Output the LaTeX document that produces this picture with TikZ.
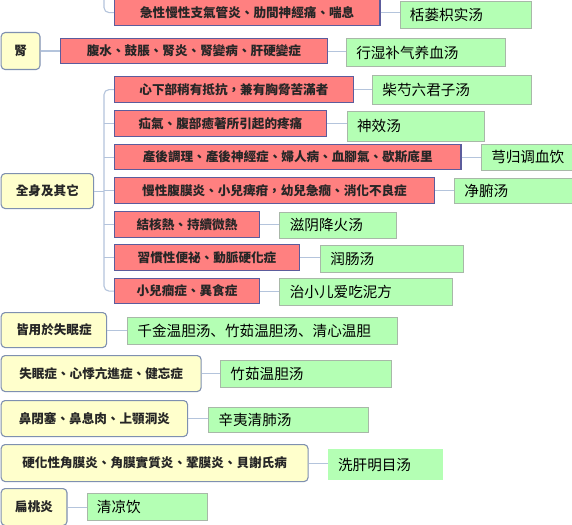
\documentclass[tikz,border=0pt]{standalone}
\usepackage{fontspec}
\newfontfamily\tcfont{Noto Sans CJK TC}
\newfontfamily\scfont{Noto Sans CJK SC}
\definecolor{redfill}{HTML}{FF8080}
\definecolor{redline}{HTML}{5C5C9C}
\definecolor{yelfill}{HTML}{FFFFCC}
\definecolor{yelline}{HTML}{7F90B0}
\definecolor{grnfill}{HTML}{B4FFB4}
\definecolor{grnline}{HTML}{A8B8A8}
\definecolor{conncol}{HTML}{B4C4DC}
\tikzset{
  redbox/.style={draw=redline, fill=redfill, line width=1.2pt, inner sep=0pt, anchor=north west,
    font=\tcfont\bfseries\fontsize{12.6}{14}\selectfont, text=black!85},
  yelbox/.style={draw=yelline, fill=yelfill, line width=1.1pt, rounded corners=4pt, inner sep=0pt, anchor=north west,
    font=\tcfont\bfseries\fontsize{12.6}{14}\selectfont, text=black!85},
  grnbox/.style={draw=grnline, fill=grnfill, line width=0.9pt, inner xsep=10pt, inner ysep=0pt, anchor=north west,
    font=\scfont\fontsize{14.6}{16}\selectfont, text=black},
  conn/.style={draw=conncol, line width=1.1pt},
}
\newcommand\mkred[6]{\node[redbox, minimum width=#4pt, minimum height=#5pt] (#1) at (#2,#3) {#6};}
\newcommand\mkyel[6]{\node[yelbox, minimum width=#4pt, minimum height=#5pt] (#1) at (#2,#3) {#6};}
\newcommand\mkgrn[6]{\node[grnbox, minimum width=#4pt, minimum height=#5pt] (#1) at (#2,#3) {\makebox[\dimexpr #4pt-20pt\relax][l]{#6}};}
\begin{document}
\begin{tikzpicture}[x=1pt,y=-1pt]
\useasboundingbox (0,0) rectangle (572,524);
\fill[white] (0,0) rectangle (572,524);
% top partial group
\mkred{r0}{113.8}{-1}{265.6}{26}{急性慢性支氣管炎、肋間神經痛、喘息}
\mkgrn{g0}{399.5}{1}{131.3}{27}{栝蒌枳实汤}
\coordinate (topb) at (104,0);
\draw[conn, rounded corners=5pt] (topb) -- (r0.west -| topb) -- (r0.west);
\draw[conn] (r0.east) -- (r0.east -| g0.west);
% kidney
\mkyel{y1}{0.6}{32}{38.8}{37}{腎}
\mkred{r1}{60.2}{38}{266.3}{25}{腹水、鼓脹、腎炎、腎變病、肝硬變症}
\mkgrn{g1}{345.8}{38}{158.7}{28}{行湿补气养血汤}
\draw[conn] (y1.east) -- (y1.east -| r1.west);
\draw[conn] (r1.east) -- (r1.east -| g1.west);
% whole body group
\mkyel{y2}{0.6}{173}{92.4}{35}{全身及其它}
\mkred{r2}{113.8}{76}{239}{26}{心下部稍有抵抗，兼有胸脅苦滿者}
\mkgrn{g2}{372}{75}{158.8}{29}{柴芍六君子汤}
\mkred{r3}{113.8}{110}{212}{26}{疝氣、腹部癒著所引起的疼痛}
\mkgrn{g3}{346.6}{111}{137.8}{30}{神效汤}
\mkred{r4}{113.8}{144}{346.6}{25}{產後調理、產後神經症、婦人病、血腳氣、歇斯底里}
\mkgrn{g4}{480.8}{144}{100}{26}{芎归调血饮}
\mkred{r5}{113.8}{177}{320.2}{26}{慢性腹膜炎、小兒痺疳，幼兒急癇、消化不良症}
\mkgrn{g5}{454}{178}{130}{25}{净腑汤}
\mkred{r6}{113.8}{211}{145.2}{26}{結核熱、持續微熱}
\mkgrn{g6}{279.4}{212}{116.4}{26}{滋阴降火汤}
\mkred{r7}{113.8}{244}{185.2}{26}{習慣性便祕、動脈硬化症}
\mkgrn{g7}{320}{245}{142.6}{27}{润肠汤}
\mkred{r8}{113.8}{278}{145.2}{25}{小兒癎症、異食症}
\mkgrn{g8}{279.4}{278}{172.9}{27}{治小儿爱吃泥方}
\coordinate (bx) at (104,190);
\draw[conn, rounded corners=5pt] (r2.west) -- (r2.west -| bx) -- (r8.west -| bx) -- (r8.west);
\foreach \r in {r3,r4,r5,r6,r7} {\draw[conn] (\r.west -| bx) -- (\r.west);}
\draw[conn] (y2.east) -- (y2.east -| bx);
\foreach \r/\g in {r2/g2,r3/g3,r4/g4,r5/g5,r6/g6,r7/g7,r8/g8} {\draw[conn] (\r.east) -- (\r.east -| \g.west);}
% bottom singles
\mkyel{y3}{0.6}{312}{105.4}{35}{皆用於失眠症}
\mkgrn{g9}{127}{317}{269.5}{27}{千金温胆汤、竹茹温胆汤、清心温胆}
\mkyel{y4}{0.6}{355}{200}{36}{失眠症、心悸亢進症、健忘症}
\mkgrn{g10}{220}{360}{171.4}{27}{竹茹温胆汤}
\mkyel{y5}{0.6}{400}{186.4}{36}{鼻閉塞、鼻息肉、上顎洞炎}
\mkgrn{g11}{208}{407}{160.4}{25}{辛夷清肺汤}
\mkyel{y6}{0.6}{444}{306.9}{37}{硬化性角膜炎、角膜實質炎、鞏膜炎、貝謝氏病}
\node[grnbox, draw=none, minimum width=115pt, minimum height=31pt] (g12) at (327.6,449) {\makebox[95pt][l]{洗肝明目汤}};
\mkyel{y7}{0.6}{488}{65.8}{37}{扁桃炎}
\mkgrn{g13}{86.5}{493}{120.7}{27}{清凉饮}
\foreach \y/\g in {y3/g9,y4/g10,y5/g11,y6/g12,y7/g13} {\draw[conn] (\y.east) -- (\y.east -| \g.west);}
\end{tikzpicture}
\end{document}
